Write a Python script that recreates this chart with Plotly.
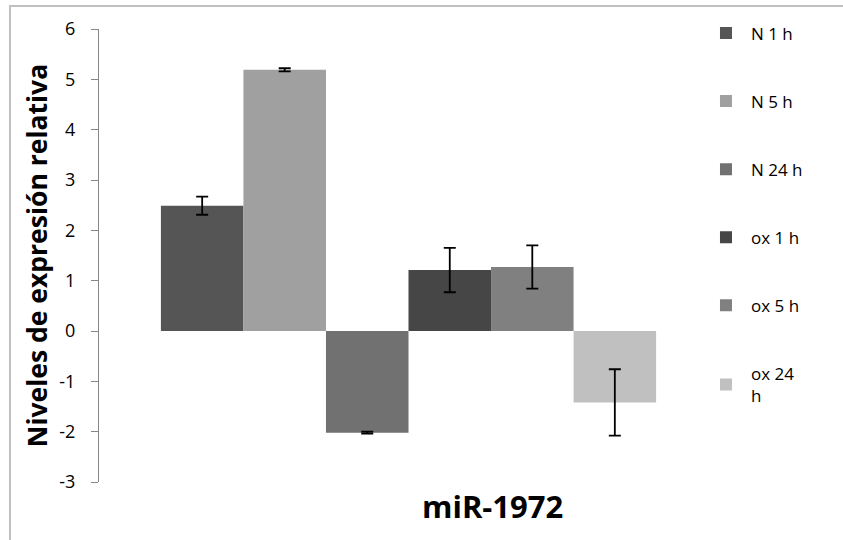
import plotly.graph_objects as go

categories = ["miR-1972"]
series_names = ["N 1 h", "N 5 h", "N 24 h", "ox 1 h", "ox 5 h", "ox 24<br>h"]
values = [2.49, 5.19, -2.02, 1.21, 1.27, -1.42]
errors = [0.18, 0.03, 0.02, 0.44, 0.43, 0.66]
colors = ["#555555", "#A0A0A0", "#717171", "#464646", "#808080", "#C0C0C0"]
y_ticks = [-3, -2, -1, 0, 1, 2, 3, 4, 5, 6]

FONT = "Open Sans"

fig = go.Figure()
for name, v, e, c in zip(series_names, values, errors, colors):
    fig.add_trace(go.Bar(
        x=categories, y=[v], name=name,
        marker=dict(color=c, line=dict(width=0)),
        error_y=dict(type="data", array=[e], visible=True, color="black",
                     thickness=1.8, width=6),
        legendgroup=name,
    ))

fig.update_layout(
    width=843, height=540,
    margin=dict(l=99, r=125, t=29, b=58, pad=0, autoexpand=False),
    paper_bgcolor="white", plot_bgcolor="white",
    barmode="group", bargap=0.2, bargroupgap=0,
    font=dict(family=FONT, color="black"),
    showlegend=True,
    legend=dict(x=0.9725, y=1.03, xanchor="left", yanchor="top",
                traceorder="grouped", tracegroupgap=43, maxheight=540,
                font=dict(family=FONT, size=17, color="black"),
                itemwidth=40, bgcolor="rgba(0,0,0,0)"),
    xaxis=dict(showticklabels=False, showline=False, ticks="",
               showgrid=False, zeroline=False, automargin=False),
    yaxis=dict(range=[-3, 6], tickvals=y_ticks, ticktext=[str(t) for t in y_ticks],
               showline=True, linecolor="#868686", linewidth=1,
               ticks="outside", ticklen=7, tickcolor="#868686",
               showgrid=False, zeroline=False, automargin=False,
               tickfont=dict(family=FONT, size=18, color="black"),
               ticklabelstandoff=12,
               title=dict(text="<b>Niveles de expresión relativa</b>", standoff=4,
                          font=dict(family=FONT, size=26.5, color="black"))),
    annotations=[dict(text="<b>miR-1972</b>", xref="paper", yref="paper",
                      x=0.635, y=-0.053, xanchor="center", yanchor="middle",
                      showarrow=False,
                      font=dict(family=FONT, size=31, color="black"))],
    shapes=[dict(type="rect", xref="paper", yref="paper",
                 x0=-0.1438, x1=1.3, y0=-0.3, y1=1.0508,
                 line=dict(color="#C0C0C0", width=2), fillcolor="rgba(0,0,0,0)",
                 layer="below")],
)

fig.write_html("out.html", config={"displayModeBar": False},
               post_script="document.body.style.margin='0';")
